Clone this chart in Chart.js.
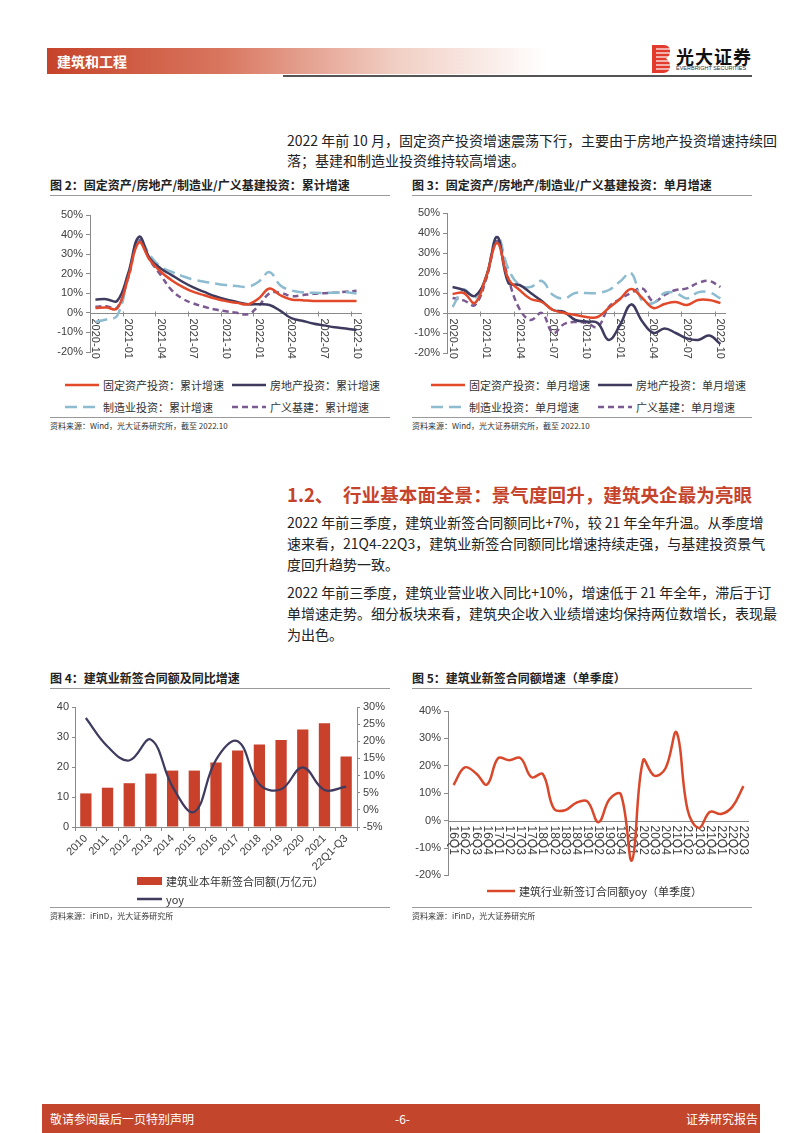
<!DOCTYPE html>
<html>
<head>
<meta charset="utf-8">
<script src="https://cdn.jsdelivr.net/npm/chart.js@4.4.0/dist/chart.umd.min.js"></script>
<style>
  body { margin: 0; width: 802px; height: 1133px; position: relative; background: #fff; overflow: hidden;
         font-family: "Noto Sans CJK SC", "Noto Sans", sans-serif; color: #222; }
  .a { position: absolute; white-space: nowrap; }
  .hdr { left: 47px; top: 48px; width: 500px; height: 26px;
         background: linear-gradient(to right, #c6432a 0%, #d9765f 35%, #f1cfc4 70%, rgba(255,255,255,0) 100%); }
  .hdr span { position: absolute; left: 10px; top: 3px; color: #fff; font-weight: bold; font-size: 14px; }
  .para { font-size: 14px; width: 465px; left: 287px; }
  .just { text-align: justify; text-align-last: justify; }
  .ttl { font-size: 12px; font-weight: bold; }
  .rule { height: 1px; background: #9a9a9a; }
  .src { font-size: 8px; color: #333; }
  .leg { font-size: 11px; color: #333; display: flex; align-items: center; }
  .leg svg { margin-right: 4px; }
  canvas { position: absolute; }
</style>
</head>
<body>

<!-- 页眉 -->
<div class="a hdr"><span>建筑和工程</span></div>
<div class="a" style="left:283px;top:75px;width:469px;height:2px;background:#555"></div>
<svg class="a" style="left:651px;top:44px" width="20" height="30" viewBox="0 0 20 30">
  <path d="M1 1 H13 Q19 1 19 7.5 Q19 12 15 14.5 Q19 17 19 22 Q19 29 12 29 H1 Z" fill="#e23a2c"/>
  <g stroke="#fff" stroke-width="1.2">
    <line x1="5" y1="5" x2="20" y2="5"/><line x1="5" y1="9" x2="20" y2="9"/><line x1="5" y1="13" x2="20" y2="13"/>
    <line x1="5" y1="17" x2="20" y2="17"/><line x1="5" y1="21" x2="20" y2="21"/><line x1="5" y1="25" x2="20" y2="25"/>
  </g>
</svg>
<div class="a" style="left:676px;top:43px;font-size:18px;font-weight:bold;color:#111;letter-spacing:1px">光大证券</div>
<div class="a" style="left:676px;top:65px;font-size:5.5px;color:#333;font-family:'Liberation Sans',Arial">EVERBRIGHT SECURITIES</div>

<!-- 正文 -->
<div class="a para just" style="top:130px">2022 年前 10 月，固定资产投资增速震荡下行，主要由于房地产投资增速持续回</div>
<div class="a para" style="top:150px">落；基建和制造业投资维持较高增速。</div>

<div class="a ttl" style="left:50px;top:176px">图 2：固定资产/房地产/制造业/广义基建投资：累计增速</div>
<div class="a rule" style="left:50px;top:195px;width:340px"></div>
<div class="a ttl" style="left:412px;top:176px">图 3：固定资产/房地产/制造业/广义基建投资：单月增速</div>
<div class="a rule" style="left:412px;top:195px;width:340px"></div>

<canvas id="c2" width="340" height="170" style="left:50px;top:200px"></canvas>
<canvas id="c3" width="340" height="172" style="left:412px;top:198px"></canvas>
<div id="leg2"></div>
<div id="leg3"></div>

<div class="a rule" style="left:50px;top:417px;width:340px"></div>
<div class="a src" style="left:50px;top:420px">资料来源：Wind，光大证券研究所，截至 2022.10</div>
<div class="a rule" style="left:412px;top:417px;width:340px"></div>
<div class="a src" style="left:412px;top:420px">资料来源：Wind，光大证券研究所，截至 2022.10</div>

<div class="a" style="left:287px;top:481px;font-size:18.5px;font-weight:bold;color:#c6432b">1.2、</div>
<div class="a just" style="left:343px;top:481px;width:409px;font-size:18.5px;font-weight:bold;color:#c6432b">行业基本面全景：景气度回升，建筑央企最为亮眼</div>

<div class="a para just" style="top:512px">2022 年前三季度，建筑业新签合同额同比+7%，较 21 年全年升温。从季度增</div>
<div class="a para just" style="top:533px">速来看，21Q4-22Q3，建筑业新签合同额同比增速持续走强，与基建投资景气</div>
<div class="a para" style="top:554px">度回升趋势一致。</div>
<div class="a para just" style="top:582px">2022 年前三季度，建筑业营业收入同比+10%，增速低于 21 年全年，滞后于订</div>
<div class="a para just" style="top:603px">单增速走势。细分板块来看，建筑央企收入业绩增速均保持两位数增长，表现最</div>
<div class="a para" style="top:624px">为出色。</div>

<div class="a ttl" style="left:50px;top:669px">图 4：建筑业新签合同额及同比增速</div>
<div class="a rule" style="left:50px;top:688px;width:340px"></div>
<div class="a ttl" style="left:412px;top:669px">图 5：建筑业新签合同额增速（单季度）</div>
<div class="a rule" style="left:412px;top:688px;width:340px"></div>

<canvas id="c4" width="340" height="182" style="left:50px;top:695px"></canvas>
<canvas id="c5" width="340" height="185" style="left:412px;top:700px"></canvas>
<div id="leg4"></div>
<div id="leg5"></div>

<div class="a rule" style="left:50px;top:907px;width:340px"></div>
<div class="a src" style="left:50px;top:910px">资料来源：iFinD，光大证券研究所</div>
<div class="a rule" style="left:412px;top:907px;width:340px"></div>
<div class="a src" style="left:412px;top:910px">资料来源：iFinD，光大证券研究所</div>

<!-- 页脚 -->
<div class="a" style="left:42px;top:1104px;width:718px;height:29px;background:#c3452b"></div>
<div class="a" style="left:50px;top:1110px;color:#fff;font-size:12px">敬请参阅最后一页特别声明</div>
<div class="a" style="left:395px;top:1110px;color:#fff;font-size:12px">-6-</div>
<div class="a" style="left:686px;top:1110px;color:#fff;font-size:12px">证券研究报告</div>

<script>
// ---- 数据 ----
const months = ['2020-10','2020-11','2020-12','2021-01','2021-02','2021-03','2021-04','2021-05','2021-06',
  '2021-07','2021-08','2021-09','2021-10','2021-11','2021-12','2022-01','2022-02','2022-03','2022-04',
  '2022-05','2022-06','2022-07','2022-08','2022-09','2022-10'];

// 图2 累计增速 (%)
const fixedCum = [2.5,2.7,2.2,18,36,27,21,16.7,13.3,10.7,9,7.3,6,5.1,4.3,7.3,12.4,9,6.8,6.5,6.1,6,6.1,6.1,6];
const estateCum = [6.8,7,6.1,20,38.9,27.8,22.7,19.3,15.9,13,10.7,8.5,6.8,5.6,4.4,4.4,4,1,-2.7,-4,-5.4,-6.4,-7.4,-8,-8.8];
const mfgCum = [-4.6,-3.4,-1.5,18,38,29.5,23.5,21,18.8,17,15.9,15,14.2,13.7,13.3,15.9,20.8,14,11.5,10.5,10.3,10.2,10.3,10.5,9.9];
const infraCum = [3.1,3.4,2.7,17.6,37,27,19.3,11.6,7.3,4.8,3.1,1.7,0.8,0,-0.7,3.5,10,10.3,8.5,9,9.7,10,10.3,10.8,11.3];

// 图3 单月增速 (%)
const fixedMon = [9.5,10,5,18,35,17,11.5,7,5.5,1.5,0,-1,-2,-2,2.5,7,12,7.5,2.5,4.5,5.5,4,6.5,6.5,5];
const estateMon = [13,11.5,8.5,18,38,15,14,10,6,1.5,0.5,-3.5,-4.3,-5,-13.5,-6,4.3,-4.3,-10,-7.7,-10,-12.7,-13.5,-11.3,-15.5];
const mfgMon = [3,11.7,7.5,18,38.5,22,14,13,16,9,7.3,10,10,10,11.5,15.7,20,6,5,10,10,7.3,10.3,10.3,7.3];
const infraMon = [7.5,6.3,4,16.7,36,17,2,-3.5,0,-10,-5.5,-4.5,-5,-7,3,7,10,12.3,5.7,9,11.5,12.3,15,16,13];

const cumLabels = ['固定资产投资：累计增速','房地产投资：累计增速','制造业投资：累计增速','广义基建：累计增速'];
const monLabels = ['固定资产投资：单月增速','房地产投资：单月增速','制造业投资：单月增速','广义基建：单月增速'];

// 图4
const years = ['2010','2011','2012','2013','2014','2015','2016','2017','2018','2019','2020','2021','22Q1-Q3'];
const contractAmt = [11.2,13.1,14.6,17.8,18.8,18.8,21.5,25.5,27.5,29.0,32.5,34.6,23.5];
const contractYoy = [26.8,18.5,14.4,20.5,6.7,-0.6,14.6,20,7.5,6,12.4,5.8,6.8];

// 图5
const quarters = ['16Q1','16Q2','16Q3','16Q4','17Q1','17Q2','17Q3','17Q4','18Q1','18Q2','18Q3','18Q4',
  '19Q1','19Q2','19Q3','19Q4','20Q1','20Q2','20Q3','20Q4','21Q1','21Q2','21Q3','21Q4','22Q1','22Q2','22Q3'];
const quarterYoy = [13,19.4,17.3,13.2,22.8,22,22.8,15.8,17,4.4,3.8,6.5,7,-0.6,7.9,9.6,-14.5,22,16.4,19,32.2,3.8,-2.7,3.2,2.4,5,12.6];

// ---- 样式 ----
const RED = '#e2492b', NAVY = '#3e3b5f', LBLUE = '#8dbbd0', PURPLE = '#7b5a92';
const AXIS = '#8a8a8a', TXT = '#404040';
const tickFont = { family: '"Liberation Sans", Arial, sans-serif', size: 11 };
const styles = [
  { color: RED, dash: [] },
  { color: NAVY, dash: [] },
  { color: LBLUE, dash: [12, 6] },
  { color: PURPLE, dash: [6, 4] }
];

// x 轴画在 0 线上，标签从上往下竖排
function zeroAxis(step, tickMarks, labelGap, fontSize) {
  return {
    id: 'zeroAxis',
    beforeDatasetsDraw(chart) {
      const xs = chart.scales.x, ys = chart.scales.y, ctx = chart.ctx;
      const y0 = Math.round(ys.getPixelForValue(0)) + 0.5;
      const half = (xs.getPixelForValue(1) - xs.getPixelForValue(0)) / 2;
      ctx.save();
      ctx.strokeStyle = AXIS;
      ctx.lineWidth = 1;
      ctx.beginPath();
      ctx.moveTo(chart.chartArea.left, y0);
      ctx.lineTo(chart.chartArea.right, y0);
      ctx.stroke();
      ctx.font = fontSize + 'px "Liberation Sans", Arial, sans-serif';
      ctx.fillStyle = TXT;
      ctx.textAlign = 'left';
      ctx.textBaseline = 'middle';
      xs.getLabels().forEach((lab, i) => {
        if (i % step) return;
        const px = xs.getPixelForValue(i);
        if (tickMarks) {
          const tx = Math.round(px - half) + 0.5;
          ctx.beginPath();
          ctx.moveTo(tx, y0 - 2);
          ctx.lineTo(tx, y0 + 3);
          ctx.stroke();
        }
        ctx.save();
        ctx.translate(px, y0 + labelGap);
        ctx.rotate(Math.PI / 2);
        ctx.fillText(lab, 0, 0);
        ctx.restore();
      });
      ctx.restore();
    }
  };
}

function pctAxis(min, max, width) {
  return {
    min: min, max: max,
    afterFit: s => { s.width = width; },
    border: { display: true, color: AXIS },
    grid: { drawOnChartArea: false, color: AXIS, tickLength: 4 },
    ticks: { stepSize: 10, color: TXT, font: tickFont, padding: 3, callback: v => v + '%' }
  };
}

function lineSet(label, data, st) {
  return {
    label: label, data: data, borderColor: st.color, borderDash: st.dash,
    borderWidth: 2.5, pointRadius: 0, tension: 0.4, fill: false
  };
}

function lineChart(id, series, labels, pad, yWidth) {
  new Chart(document.getElementById(id), {
    type: 'line',
    data: { labels: months, datasets: series.map((d, i) => lineSet(labels[i], d, styles[i])) },
    options: {
      responsive: false, animation: false,
      layout: { padding: pad },
      plugins: { legend: { display: false }, tooltip: { enabled: false } },
      scales: {
        x: { display: false, offset: true },
        y: pctAxis(-20, 50, yWidth)
      }
    },
    plugins: [zeroAxis(3, true, 5, 11)]
  });
}

// HTML 图例
function svgLine(st, w) {
  return '<svg width="' + w + '" height="6"><line x1="0" y1="3" x2="' + w + '" y2="3" stroke="' + st.color +
    '" stroke-width="2.5" stroke-dasharray="' + (st.dash.length ? st.dash.join(',') : 'none') + '"/></svg>';
}
function gridLegend(id, left, labels) {
  const cols = [left + 15, left + 182];
  const rows = [377, 399];
  let html = '';
  labels.forEach((lab, i) => {
    html += '<div class="a leg" style="left:' + cols[i % 2] + 'px;top:' + rows[Math.floor(i / 2)] + 'px">' +
      svgLine(styles[i], 34) + lab + '</div>';
  });
  document.getElementById(id).innerHTML = html;
}

lineChart('c2', [fixedCum, estateCum, mfgCum, infraCum], cumLabels, { top: 15, right: 28, bottom: 18, left: 0 }, 40);
lineChart('c3', [fixedMon, estateMon, mfgMon, infraMon], monLabels, { top: 15, right: 26, bottom: 17, left: 0 }, 35);
gridLegend('leg2', 50, cumLabels);
gridLegend('leg3', 416, monLabels);

// 图4 柱线组合
new Chart(document.getElementById('c4'), {
  data: {
    labels: years,
    datasets: [
      { type: 'line', label: 'yoy', data: contractYoy, yAxisID: 'y2', borderColor: NAVY, borderWidth: 2.2,
        pointRadius: 0, tension: 0.4, order: 0 },
      { type: 'bar', label: '建筑业本年新签合同额(万亿元）', data: contractAmt, yAxisID: 'y',
        backgroundColor: '#c9412a', barPercentage: 0.52, categoryPercentage: 1, order: 1 }
    ]
  },
  options: {
    responsive: false, animation: false,
    layout: { padding: { top: 12, right: 0, bottom: 0, left: 0 } },
    plugins: { legend: { display: false }, tooltip: { enabled: false } },
    scales: {
      x: {
        afterFit: s => { s.height = 50; },
        border: { display: true, color: AXIS },
        grid: { drawOnChartArea: false, color: AXIS, tickLength: 4, offset: true },
        ticks: { color: TXT, font: tickFont, minRotation: 45, maxRotation: 45, autoSkip: false, padding: 1 }
      },
      y: {
        position: 'left', min: 0, max: 40,
        afterFit: s => { s.width = 25; },
        border: { display: true, color: AXIS },
        grid: { drawOnChartArea: false, color: AXIS, tickLength: 3 },
        ticks: { stepSize: 5, color: TXT, font: tickFont, padding: 3 }
      },
      y2: {
        position: 'right', min: -5, max: 30,
        afterFit: s => { s.width = 33; },
        border: { display: true, color: AXIS },
        grid: { drawOnChartArea: false, color: AXIS, tickLength: 3 },
        ticks: { stepSize: 5, color: TXT, font: tickFont, padding: 3, callback: v => v + '%' }
      }
    }
  }
});
document.getElementById('leg4').innerHTML =
  '<div class="a leg" style="left:137px;top:873px"><svg width="25" height="8" style="margin-right:4px"><rect x="0" y="0" width="25" height="8" fill="#c9412a"/></svg>建筑业本年新签合同额(万亿元）</div>' +
  '<div class="a leg" style="left:137px;top:891px">' + svgLine({ color: NAVY, dash: [] }, 25) + 'yoy</div>';

// 图5 单季度增速
new Chart(document.getElementById('c5'), {
  type: 'line',
  data: {
    labels: quarters,
    datasets: [{ label: '建筑行业新签订合同额yoy（单季度）', data: quarterYoy, borderColor: '#d9482b',
      borderWidth: 2.5, pointRadius: 0, tension: 0.4 }]
  },
  options: {
    responsive: false, animation: false,
    layout: { padding: { top: 11, right: 3, bottom: 4, left: 0 } },
    plugins: { legend: { display: false }, tooltip: { enabled: false } },
    scales: {
      x: { display: false, offset: true },
      y: pctAxis(-20, 40, 36)
    }
  },
  plugins: [zeroAxis(1, false, 4, 12)]
});
document.getElementById('leg5').innerHTML =
  '<div class="a leg" style="left:487px;top:883px">' + svgLine({ color: '#d9482b', dash: [] }, 28) + '建筑行业新签订合同额yoy（单季度）</div>';
</script>
</body>
</html>
